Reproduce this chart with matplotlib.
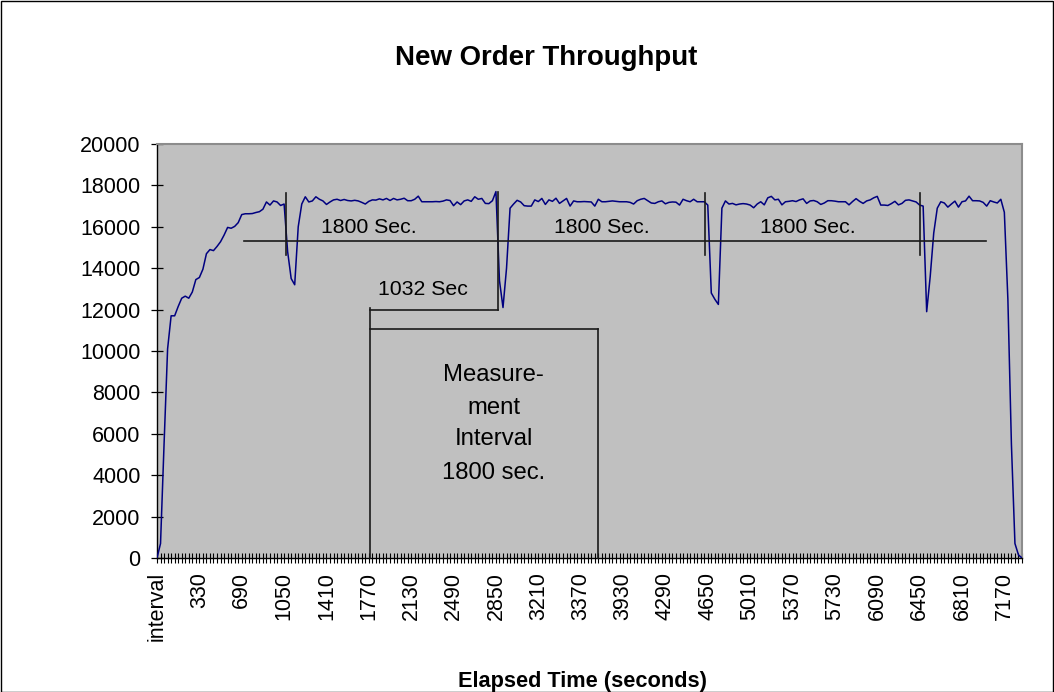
import matplotlib
matplotlib.use("Agg")
import matplotlib.pyplot as plt
import numpy as np
from matplotlib.patches import Rectangle

plt.rcParams['font.family'] = ['Liberation Sans', 'DejaVu Sans']

# ---------------- data ----------------
ramp_up = [0, 700, 5500, 10100, 11700, 11700, 12150, 12550, 12650, 12550,
           12850, 13450, 13550, 13950, 14700, 14900, 14850, 15050, 15280, 15600,
           15970, 15930, 16020, 16200, 16590, 16630, 16630, 16640, 16690, 16730,
           16850, 17200, 17050, 17250, 17200, 17030, 17100, 14800, 13500, 13200,
           16000, 17100]
run1 = [17450, 17200, 17250, 17450, 17330, 17250, 17080, 17200, 17300, 17330,
        17270, 17320, 17270, 17250, 17280, 17250, 17180, 17100, 17230, 17300,
        17290, 17350, 17300, 17370, 17270, 17370, 17300, 17330, 17380, 17260,
        17260, 17330, 17480, 17210, 17210, 17210, 17210, 17220, 17210, 17240,
        17300, 17270, 17020, 17200, 17070, 17250, 17300, 17230, 17450, 17330,
        17370, 17130, 17120, 17260]
dip2 = [17700, 13400, 12100, 14000, 16900]
run2 = [17100, 17280, 17200, 17020, 17000, 17000, 17300, 17220, 17370, 17080,
        17300, 17230, 17380, 17130, 17250, 17370, 17000, 17250, 17210, 17210,
        17220, 17210, 17200, 17000, 17330, 17210, 17210, 17230, 17250, 17230,
        17210, 17210, 17210, 17180, 17100, 17260, 17330, 17370, 17260, 17150,
        17130, 17210, 17250, 17110, 17180, 17200, 17190, 17050, 17330, 17260,
        17210, 17330, 17210, 17210, 17210, 17050]
dip3 = [12800, 12500, 12250, 16900, 17250]
run3 = [17100, 17130, 17060, 17100, 17120, 17100, 17050, 16920, 17100, 17210,
        17060, 17400, 17470, 17300, 17330, 17060, 17210, 17230, 17260, 17220,
        17300, 17350, 17130, 17250, 17270, 17210, 17080, 17150, 17260, 17260,
        17240, 17210, 17210, 17210, 17060, 17220, 17360, 17230, 17130, 17250,
        17300, 17400, 17470, 17050, 17050, 17030, 17120, 17230, 17060, 17130,
        17280, 17300, 17250, 17200, 17050, 17000]
dip4 = [11900, 13600, 15700, 16900]
run4 = [17210, 17150, 16950, 17100, 17240, 16950, 17210, 17250, 17480, 17260,
        17260, 17250, 17180, 17000, 17260, 17200, 17150, 17330]
ramp_down = [16700, 12500, 5500, 700, 150, 0]

throughput = ramp_up + run1 + dip2 + run2 + dip3 + run3 + dip4 + run4 + ramp_down

tick_labels = ["interval", "330", "690", "1050", "1410", "1770", "2130", "2490",
               "2850", "3210", "3370", "3930", "4290", "4650", "5010", "5370",
               "5730", "6090", "6450", "6810", "7170"]
label_every = 12

# ---------------- figure ----------------
W, H = 1054, 692
L, R, T, B = 157, 1022, 144, 558
fig = plt.figure(figsize=(W / 100, H / 100), dpi=100)
ax = fig.add_axes([L / W, 1 - B / H, (R - L) / W, (B - T) / H])
ax.set_facecolor('#C0C0C0')

n = len(throughput)
x = np.arange(n)
ax.plot(x, throughput, color='#000080', lw=1.1, zorder=3)

ax.set_xlim(0, n - 1)
ax.set_ylim(0, 20000)
ax.set_yticks(range(0, 20001, 2000))
ax.tick_params(axis='y', direction='inout', length=8.6, width=0.9, pad=7.5,
               labelsize=15.5, color='black')

labels = [''] * n
for k, lab in enumerate(tick_labels):
    idx = k * label_every
    if idx < n:
        labels[idx] = lab
ax.set_xticks(x)
ax.set_xticklabels(labels, rotation=90)
ax.tick_params(axis='x', direction='inout', length=7.6, width=0.8, pad=6.2,
               labelsize=15.5, color='black')

for s in ['left', 'bottom']:
    ax.spines[s].set_color('black')
    ax.spines[s].set_linewidth(1.0)
for s in ['top', 'right']:
    ax.spines[s].set_color('#8C8C8C')
    ax.spines[s].set_linewidth(1.5)

# ---------------- annotations ----------------
lc = '#1A1A1A'
lw = 1.2
def seg(xs, ys):
    ax.plot(xs, ys, color=lc, lw=lw, zorder=4, clip_on=False)

seg([24.5, 234.9], [15314, 15314])          # long horizontal
for xm, ytop, ybot in [(36.5, 17647, 14638), (96.5, 17696, 11981),
                       (155.3, 17647, 14638), (216.0, 17620, 14638)]:
    seg([xm, xm], [ytop, ybot])
seg([60.4, 96.5], [11981, 11981])           # 1032 Sec bracket
seg([60.4, 60.4], [12063, 0])               # left side of measurement interval
seg([60.4, 124.9], [11063, 11063])          # top of measurement box
seg([124.9, 124.9], [11063, 0])             # right side

fs = 15.3
for xt in [60.1, 126.1, 184.3]:
    ax.text(xt, 15960, '1800 Sec.', ha='center', va='center', fontsize=fs, zorder=5)
ax.text(75.2, 12950, '1032 Sec', ha='center', va='center', fontsize=fs, zorder=5)
for txt, yv in [('Measure-', 8840), ('ment', 7232), ('Interval', 5749), ('1800 sec.', 4092)]:
    ax.text(95.3, yv, txt, ha='center', va='center', fontsize=17.2, zorder=5)

fig.text(546 / W, 1 - 58 / H, 'New Order Throughput', ha='center', va='center',
         fontsize=19.9, fontweight='bold')
fig.text(582 / W, 1 - 681 / H, 'Elapsed Time (seconds)', ha='center', va='center',
         fontsize=15.7, fontweight='bold')

fig.add_artist(Rectangle((0.5 / W, 0.5 / H), (W - 1.5) / W, (H - 1.5) / H,
                         transform=fig.transFigure, fill=False, ec='black', lw=1.0))

fig.savefig('out.png', dpi=100)
